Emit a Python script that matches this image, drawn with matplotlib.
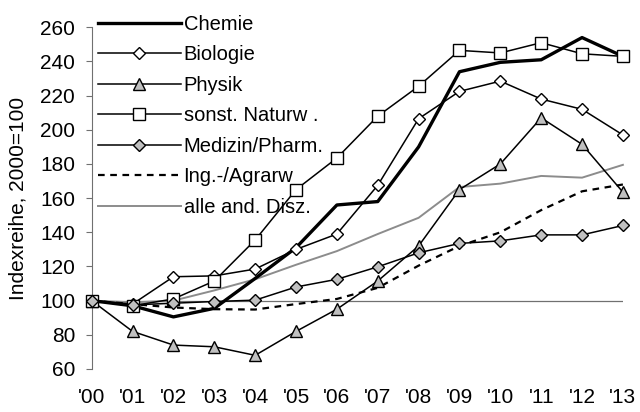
import matplotlib.pyplot as plt

plt.rcParams['font.family'] = ['Liberation Sans', 'DejaVu Sans']

years = ["'00", "'01", "'02", "'03", "'04", "'05", "'06",
         "'07", "'08", "'09", "'10", "'11", "'12", "'13"]

chemie = [100, 97, 90.5, 95.5, 113, 131, 156, 158, 190, 234, 239.5, 241, 254, 243]
biologie = [100, 98, 114, 114.5, 118.5, 130, 139, 167.5, 206.5, 222.5, 228.5, 218, 212, 197]
physik = [100, 82, 74, 73, 68, 82, 95, 111.5, 132, 165, 180, 207, 191.5, 163.5]
sonst_naturw = [100, 97, 101, 111.5, 135.5, 165, 183.5, 208, 225.5, 246.5, 245, 251, 244.5, 243]
medizin = [100, 97.5, 98.5, 99.5, 100.3, 108, 112.5, 119.8, 128, 133.5, 135, 138.5, 138.5, 144]
ing_agrar = [100, 98, 96, 95, 94.8, 98, 101, 107.5, 120.5, 132, 140, 153, 164, 168]
alle_and = [100, 99, 100, 106, 112.5, 121, 129, 139, 148.5, 166.5, 168.5, 173, 172, 179.5]

x = list(range(len(years)))

fig = plt.figure(figsize=(6.4, 4.12), dpi=100)
ax = fig.add_axes([0.1433, 0.1044, 0.830, 0.8293])

fs = 15
ax.axhline(100, color='#707070', lw=0.9, zorder=1)

ax.plot(x, chemie, color='black', lw=2.4, label='Chemie', zorder=3, clip_on=False)
ax.plot(x, biologie, color='black', lw=1.1, marker='D', ms=6.5, mfc='white',
        mec='black', mew=1.0, label='Biologie', zorder=4, clip_on=False)
ax.plot(x, physik, color='black', lw=1.1, marker='^', ms=9, mfc='#c0c0c0',
        mec='black', mew=1.0, label='Physik', zorder=4, clip_on=False)
ax.plot(x, sonst_naturw, color='black', lw=1.1, marker='s', ms=8, mfc='white',
        mec='black', mew=1.0, label='sonst. Naturw .', zorder=4, clip_on=False)
ax.plot(x, medizin, color='black', lw=1.1, marker='D', ms=6.5, mfc='#c0c0c0',
        mec='black', mew=1.0, label='Medizin/Pharm.', zorder=4, clip_on=False)
ax.plot(x, ing_agrar, color='black', lw=1.6, ls=(0, (3, 2.5)), label='Ing.-/Agrarw',
        zorder=3, clip_on=False)
ax.plot(x, alle_and, color='#8c8c8c', lw=1.4, label='alle and. Disz.', zorder=2,
        clip_on=False)

ax.set_xlim(0, 13)
ax.set_ylim(60, 260)
ax.set_yticks(range(60, 261, 20))
ax.set_xticks(x)
ax.set_xticklabels(years)
ax.tick_params(axis='y', direction='out', length=4.5, width=0.8, color='#707070',
               labelsize=fs, pad=7.5)
ax.tick_params(axis='x', length=0, labelsize=fs, pad=14)

for side in ['top', 'right', 'bottom']:
    ax.spines[side].set_visible(False)
ax.spines['left'].set_color('#707070')
ax.spines['left'].set_linewidth(0.8)

ax.set_ylabel('Indexreihe, 2000=100', fontsize=15)
ax.yaxis.set_label_coords(-0.12, 0.5)

ax.legend(loc='upper left', bbox_to_anchor=(0.0125, 1.037), frameon=False,
          fontsize=14.5, handlelength=4.08, handletextpad=0.15,
          labelspacing=0.57, borderaxespad=0, borderpad=0)

fig.savefig('out.png', dpi=100)
